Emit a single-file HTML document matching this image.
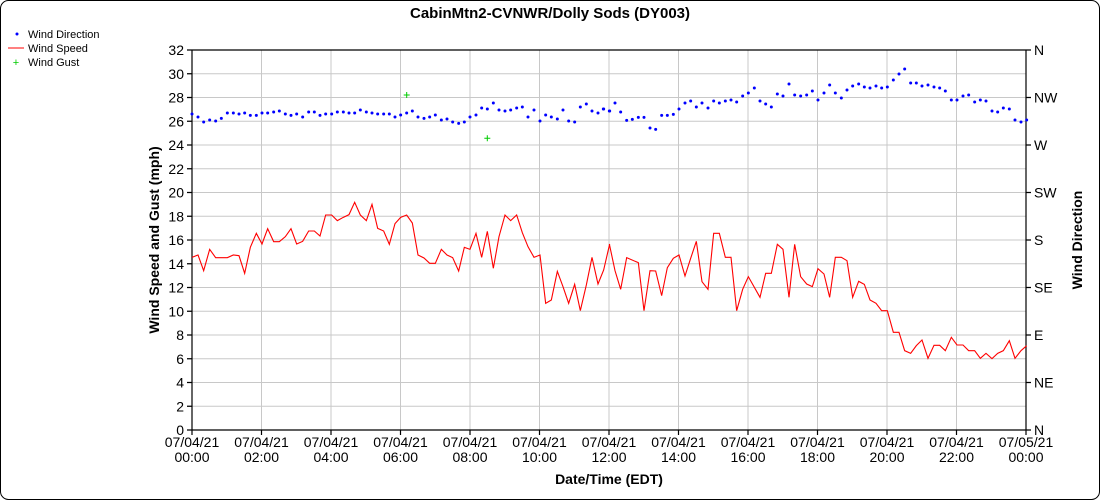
<!DOCTYPE html>
<html><head><meta charset="utf-8"><style>
html,body{margin:0;padding:0;background:#fff;}
svg{display:block;font-family:"Liberation Sans",sans-serif;}
</style></head><body>
<svg width="1100" height="500" viewBox="0 0 1100 500" xmlns="http://www.w3.org/2000/svg">
<rect x="0.5" y="0.5" width="1099" height="499" rx="8" fill="#fff" stroke="#000"/>
<text x="550" y="18" text-anchor="middle" font-size="15" font-weight="bold">CabinMtn2-CVNWR/Dolly Sods (DY003)</text>
<circle cx="17" cy="34" r="1.5" fill="#00f"/>
<text x="28" y="38" font-size="11">Wind Direction</text>
<line x1="8" y1="48" x2="24" y2="48" stroke="#f00"/>
<text x="28" y="52" font-size="11">Wind Speed</text>
<text x="16" y="66" font-size="11" fill="#0c0" text-anchor="middle">+</text>
<text x="28" y="66" font-size="11">Wind Gust</text>
<g stroke="#c8c8c8" stroke-width="1">
<line x1="192" y1="73.75" x2="1026" y2="73.75"/><line x1="192" y1="97.5" x2="1026" y2="97.5"/>
<line x1="192" y1="121.25" x2="1026" y2="121.25"/><line x1="192" y1="145" x2="1026" y2="145"/>
<line x1="192" y1="168.75" x2="1026" y2="168.75"/><line x1="192" y1="192.5" x2="1026" y2="192.5"/>
<line x1="192" y1="216.25" x2="1026" y2="216.25"/><line x1="192" y1="240" x2="1026" y2="240"/>
<line x1="192" y1="263.75" x2="1026" y2="263.75"/><line x1="192" y1="287.5" x2="1026" y2="287.5"/>
<line x1="192" y1="311.25" x2="1026" y2="311.25"/><line x1="192" y1="335" x2="1026" y2="335"/>
<line x1="192" y1="358.75" x2="1026" y2="358.75"/><line x1="192" y1="382.5" x2="1026" y2="382.5"/>
<line x1="192" y1="406.25" x2="1026" y2="406.25"/>
<line x1="261.5" y1="50" x2="261.5" y2="430"/><line x1="331" y1="50" x2="331" y2="430"/>
<line x1="400.5" y1="50" x2="400.5" y2="430"/><line x1="470" y1="50" x2="470" y2="430"/>
<line x1="539.5" y1="50" x2="539.5" y2="430"/><line x1="609" y1="50" x2="609" y2="430"/>
<line x1="678.5" y1="50" x2="678.5" y2="430"/><line x1="748" y1="50" x2="748" y2="430"/>
<line x1="817.5" y1="50" x2="817.5" y2="430"/><line x1="887" y1="50" x2="887" y2="430"/>
<line x1="956.5" y1="50" x2="956.5" y2="430"/>
</g>
<g stroke="#000" stroke-width="1.2" fill="none">
<line x1="192" y1="50" x2="192" y2="430"/>
<line x1="1026" y1="50" x2="1026" y2="430"/>
<line x1="192" y1="430" x2="1026" y2="430"/>
<line x1="192" y1="50" x2="1026" y2="50"/>
<path d="M187 50H192M187 73.75H192M187 97.5H192M187 121.25H192M187 145H192M187 168.75H192M187 192.5H192M187 216.25H192M187 240H192M187 263.75H192M187 287.5H192M187 311.25H192M187 335H192M187 358.75H192M187 382.5H192M187 406.25H192M187 430H192"/>
<path d="M1026 50H1031M1026 97.5H1031M1026 145H1031M1026 192.5H1031M1026 240H1031M1026 287.5H1031M1026 335H1031M1026 382.5H1031M1026 430H1031"/>
<path d="M192 430V435M261.5 430V435M331 430V435M400.5 430V435M470 430V435M539.5 430V435M609 430V435M678.5 430V435M748 430V435M817.5 430V435M887 430V435M956.5 430V435M1026 430V435"/>
</g>
<g font-size="14" text-anchor="end">
<text x="184" y="55">32</text><text x="184" y="78.75">30</text><text x="184" y="102.5">28</text>
<text x="184" y="126.25">26</text><text x="184" y="150">24</text><text x="184" y="173.75">22</text>
<text x="184" y="197.5">20</text><text x="184" y="221.25">18</text><text x="184" y="245">16</text>
<text x="184" y="268.75">14</text><text x="184" y="292.5">12</text><text x="184" y="316.25">10</text>
<text x="184" y="340">8</text><text x="184" y="363.75">6</text><text x="184" y="387.5">4</text>
<text x="184" y="411.25">2</text><text x="184" y="435">0</text>
</g>
<g font-size="14">
<text x="1034" y="55">N</text><text x="1034" y="102.5">NW</text><text x="1034" y="150">W</text>
<text x="1034" y="197.5">SW</text><text x="1034" y="245">S</text><text x="1034" y="292.5">SE</text>
<text x="1034" y="340">E</text><text x="1034" y="387.5">NE</text><text x="1034" y="435">N</text>
</g>
<g font-size="14" text-anchor="middle">
<text x="192" y="447">07/04/21</text><text x="192" y="462">00:00</text>
<text x="261.5" y="447">07/04/21</text><text x="261.5" y="462">02:00</text>
<text x="331" y="447">07/04/21</text><text x="331" y="462">04:00</text>
<text x="400.5" y="447">07/04/21</text><text x="400.5" y="462">06:00</text>
<text x="470" y="447">07/04/21</text><text x="470" y="462">08:00</text>
<text x="539.5" y="447">07/04/21</text><text x="539.5" y="462">10:00</text>
<text x="609" y="447">07/04/21</text><text x="609" y="462">12:00</text>
<text x="678.5" y="447">07/04/21</text><text x="678.5" y="462">14:00</text>
<text x="748" y="447">07/04/21</text><text x="748" y="462">16:00</text>
<text x="817.5" y="447">07/04/21</text><text x="817.5" y="462">18:00</text>
<text x="887" y="447">07/04/21</text><text x="887" y="462">20:00</text>
<text x="956.5" y="447">07/04/21</text><text x="956.5" y="462">22:00</text>
<text x="1026" y="447">07/05/21</text><text x="1026" y="462">00:00</text>
</g>
<text x="609" y="484" text-anchor="middle" font-size="14" font-weight="bold">Date/Time (EDT)</text>
<text transform="translate(159,240) rotate(-90)" text-anchor="middle" font-size="14" font-weight="bold">Wind Speed and Gust (mph)</text>
<text transform="translate(1082,240) rotate(-90)" text-anchor="middle" font-size="14" font-weight="bold">Wind Direction</text>
<g transform="translate(180,40) scale(0.33333)">
<polyline fill="none" stroke="#f00" stroke-width="3.3" points="36,652 54,645 71,692 89,628 107,653 142,653 160,645 177,647 194,700 211,622 229,580 246,612 263,566 281,605 298,605 316,590 333,566 350,612 368,604 386,573 403,573 420,588 437,525 455,525 472,542 490,532 507,524 524,487 541,525 559,542 576,493 593,565 611,573 628,613 645,551 662,532 680,525 697,549 714,645 732,654 749,670 766,670 784,628 801,645 818,653 836,693 853,622 870,628 888,580 905,652 922,574 940,685 957,590 975,525 992,542 1010,525 1027,578 1044,620 1062,652 1080,645 1097,790 1114,780 1132,694 1149,740 1166,790 1184,733 1201,812 1219,735 1236,652 1254,732 1271,690 1289,612"/>
</g>
<g transform="translate(600,40) scale(0.33333)">
<polyline fill="none" stroke="#f00" stroke-width="3.3" points="28,612 45,692 62,748 80,653 115,668 132,812 150,692 167,693 185,767 202,683 220,655 237,645 255,708 272,655 289,604 306,725 324,748 341,580 358,580 376,652 393,652 410,812 428,748 445,710 480,772 497,700 514,700 532,613 549,628 567,772 584,613 602,710 620,732 637,740 654,686 672,702 689,772 706,652 724,652 741,662 758,772 776,724 793,733 810,780 828,790 845,812 862,812 880,877 897,877 914,932 932,940 949,917 966,900 984,955 1002,916 1019,916 1036,932 1054,892 1071,915 1089,915 1106,932 1124,932 1141,955 1158,940 1176,956 1193,940 1210,932 1228,902 1245,955 1263,932 1280,917"/>
</g>
<g transform="translate(180,40) scale(0.33333)" fill="#00f">
<circle cx="36" cy="222" r="4.5"/><circle cx="54" cy="231" r="4.5"/><circle cx="71" cy="246" r="4.5"/><circle cx="89" cy="240" r="4.5"/><circle cx="107" cy="243" r="4.5"/><circle cx="124" cy="235" r="4.5"/><circle cx="142" cy="219" r="4.5"/><circle cx="160" cy="219" r="4.5"/><circle cx="177" cy="222" r="4.5"/><circle cx="194" cy="219" r="4.5"/><circle cx="211" cy="226" r="4.5"/><circle cx="229" cy="226" r="4.5"/><circle cx="246" cy="219" r="4.5"/><circle cx="263" cy="219" r="4.5"/><circle cx="281" cy="216" r="4.5"/><circle cx="298" cy="213" r="4.5"/><circle cx="316" cy="222" r="4.5"/><circle cx="333" cy="226" r="4.5"/><circle cx="350" cy="222" r="4.5"/><circle cx="368" cy="231" r="4.5"/><circle cx="386" cy="216" r="4.5"/><circle cx="403" cy="216" r="4.5"/><circle cx="420" cy="226" r="4.5"/><circle cx="437" cy="222" r="4.5"/><circle cx="455" cy="222" r="4.5"/><circle cx="472" cy="216" r="4.5"/><circle cx="490" cy="216" r="4.5"/><circle cx="507" cy="219" r="4.5"/><circle cx="524" cy="219" r="4.5"/><circle cx="541" cy="210" r="4.5"/><circle cx="559" cy="216" r="4.5"/><circle cx="576" cy="219" r="4.5"/><circle cx="593" cy="222" r="4.5"/><circle cx="611" cy="222" r="4.5"/><circle cx="628" cy="222" r="4.5"/><circle cx="645" cy="231" r="4.5"/><circle cx="662" cy="225" r="4.5"/><circle cx="680" cy="219" r="4.5"/><circle cx="697" cy="213" r="4.5"/><circle cx="714" cy="231" r="4.5"/><circle cx="732" cy="235" r="4.5"/><circle cx="749" cy="231" r="4.5"/><circle cx="766" cy="225" r="4.5"/><circle cx="784" cy="240" r="4.5"/><circle cx="801" cy="237" r="4.5"/><circle cx="818" cy="246" r="4.5"/><circle cx="836" cy="250" r="4.5"/><circle cx="853" cy="246" r="4.5"/><circle cx="870" cy="231" r="4.5"/><circle cx="888" cy="225" r="4.5"/><circle cx="905" cy="204" r="4.5"/><circle cx="922" cy="207" r="4.5"/><circle cx="940" cy="189" r="4.5"/><circle cx="957" cy="210" r="4.5"/><circle cx="975" cy="213" r="4.5"/><circle cx="992" cy="210" r="4.5"/><circle cx="1010" cy="204" r="4.5"/><circle cx="1027" cy="201" r="4.5"/><circle cx="1044" cy="231" r="4.5"/><circle cx="1062" cy="210" r="4.5"/><circle cx="1080" cy="243" r="4.5"/><circle cx="1097" cy="225" r="4.5"/><circle cx="1114" cy="231" r="4.5"/><circle cx="1132" cy="237" r="4.5"/><circle cx="1149" cy="210" r="4.5"/><circle cx="1166" cy="243" r="4.5"/><circle cx="1184" cy="246" r="4.5"/><circle cx="1201" cy="201" r="4.5"/><circle cx="1219" cy="192" r="4.5"/><circle cx="1236" cy="213" r="4.5"/><circle cx="1254" cy="219" r="4.5"/><circle cx="1271" cy="207" r="4.5"/><circle cx="1289" cy="213" r="4.5"/>
</g>
<g transform="translate(600,40) scale(0.33333)" fill="#00f">
<circle cx="10" cy="207" r="4.5"/><circle cx="28" cy="213" r="4.5"/><circle cx="45" cy="189" r="4.5"/><circle cx="62" cy="216" r="4.5"/><circle cx="80" cy="241" r="4.5"/><circle cx="97" cy="238" r="4.5"/><circle cx="115" cy="232" r="4.5"/><circle cx="132" cy="232" r="4.5"/><circle cx="150" cy="264" r="4.5"/><circle cx="167" cy="268" r="4.5"/><circle cx="185" cy="226" r="4.5"/><circle cx="202" cy="226" r="4.5"/><circle cx="220" cy="223" r="4.5"/><circle cx="237" cy="207" r="4.5"/><circle cx="255" cy="189" r="4.5"/><circle cx="272" cy="183" r="4.5"/><circle cx="289" cy="201" r="4.5"/><circle cx="306" cy="189" r="4.5"/><circle cx="324" cy="204" r="4.5"/><circle cx="341" cy="183" r="4.5"/><circle cx="358" cy="189" r="4.5"/><circle cx="376" cy="183" r="4.5"/><circle cx="393" cy="180" r="4.5"/><circle cx="410" cy="186" r="4.5"/><circle cx="428" cy="168" r="4.5"/><circle cx="445" cy="159" r="4.5"/><circle cx="463" cy="144" r="4.5"/><circle cx="480" cy="183" r="4.5"/><circle cx="497" cy="192" r="4.5"/><circle cx="514" cy="201" r="4.5"/><circle cx="532" cy="162" r="4.5"/><circle cx="549" cy="168" r="4.5"/><circle cx="567" cy="132" r="4.5"/><circle cx="584" cy="165" r="4.5"/><circle cx="602" cy="168" r="4.5"/><circle cx="620" cy="165" r="4.5"/><circle cx="637" cy="153" r="4.5"/><circle cx="654" cy="180" r="4.5"/><circle cx="672" cy="159" r="4.5"/><circle cx="689" cy="135" r="4.5"/><circle cx="706" cy="159" r="4.5"/><circle cx="724" cy="174" r="4.5"/><circle cx="741" cy="150" r="4.5"/><circle cx="758" cy="138" r="4.5"/><circle cx="776" cy="132" r="4.5"/><circle cx="793" cy="141" r="4.5"/><circle cx="810" cy="144" r="4.5"/><circle cx="828" cy="138" r="4.5"/><circle cx="845" cy="144" r="4.5"/><circle cx="862" cy="141" r="4.5"/><circle cx="880" cy="120" r="4.5"/><circle cx="897" cy="102" r="4.5"/><circle cx="914" cy="87" r="4.5"/><circle cx="932" cy="129" r="4.5"/><circle cx="949" cy="129" r="4.5"/><circle cx="966" cy="138" r="4.5"/><circle cx="984" cy="135" r="4.5"/><circle cx="1002" cy="141" r="4.5"/><circle cx="1019" cy="144" r="4.5"/><circle cx="1036" cy="153" r="4.5"/><circle cx="1054" cy="180" r="4.5"/><circle cx="1071" cy="180" r="4.5"/><circle cx="1089" cy="168" r="4.5"/><circle cx="1106" cy="165" r="4.5"/><circle cx="1124" cy="186" r="4.5"/><circle cx="1141" cy="180" r="4.5"/><circle cx="1158" cy="183" r="4.5"/><circle cx="1176" cy="213" r="4.5"/><circle cx="1193" cy="216" r="4.5"/><circle cx="1210" cy="204" r="4.5"/><circle cx="1228" cy="207" r="4.5"/><circle cx="1245" cy="240" r="4.5"/><circle cx="1263" cy="246" r="4.5"/><circle cx="1280" cy="240" r="4.5"/>
</g>
<g stroke="#0c0" stroke-width="1">
<path d="M403.7 95H409.7M406.7 92V98"/>
<path d="M484.3 138.3H490.3M487.3 135.3V141.3"/>
</g>
</svg>
</body></html>
